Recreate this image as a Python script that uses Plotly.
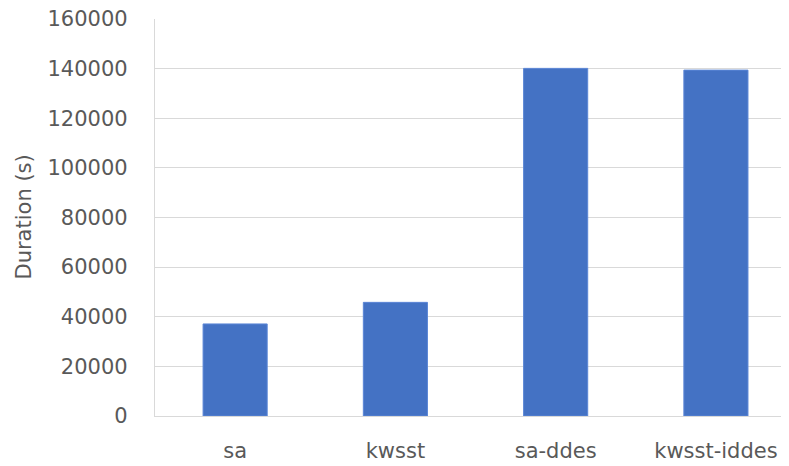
import plotly.graph_objects as go

categories = ["sa", "kwsst", "sa-ddes", "kwsst-iddes"]
durations = [37100, 45800, 140100, 139400]
y_ticks = [0, 20000, 40000, 60000, 80000, 100000, 120000, 140000, 160000]

fig = go.Figure(go.Bar(
    x=categories, y=durations,
    marker=dict(color="#4472C4", line=dict(color="#5B86D6", width=1)),
))

font_family = "DejaVu Sans"
# page body has an 8px offset, so the figure is sized to fit the 789x466 window
fig.update_layout(
    width=781, height=458,
    margin=dict(l=147, r=0, t=11, b=49.5, autoexpand=False),
    paper_bgcolor="white", plot_bgcolor="white",
    bargap=0.6,
    showlegend=False,
    font=dict(family=font_family, color="#595959"),
    annotations=[dict(
        text="Duration (s)", textangle=-90,
        xref="paper", yref="paper", x=0, y=0.5,
        xanchor="center", yanchor="middle", xshift=-132,
        showarrow=False, font=dict(size=21, color="#595959"),
    )],
)
fig.update_yaxes(
    range=[0, 160000], tickvals=y_ticks, ticktext=[str(v) for v in y_ticks],
    showgrid=True, gridcolor="#D9D9D9", gridwidth=1.3,
    showline=True, linecolor="#D9D9D9", linewidth=1.3,
    zeroline=False,
    tickfont=dict(size=21, color="#595959"),
    ticklabelstandoff=22,
    ticklabeloverflow="allow",
    automargin=False,
)
fig.update_xaxes(
    range=[-0.5, 3.456],
    showline=True, linecolor="#D9D9D9", linewidth=1.3,
    tickfont=dict(size=21, color="#595959"),
    ticklabelstandoff=16,
    ticklabeloverflow="allow",
    automargin=False,
)
fig.write_html("out.html")
